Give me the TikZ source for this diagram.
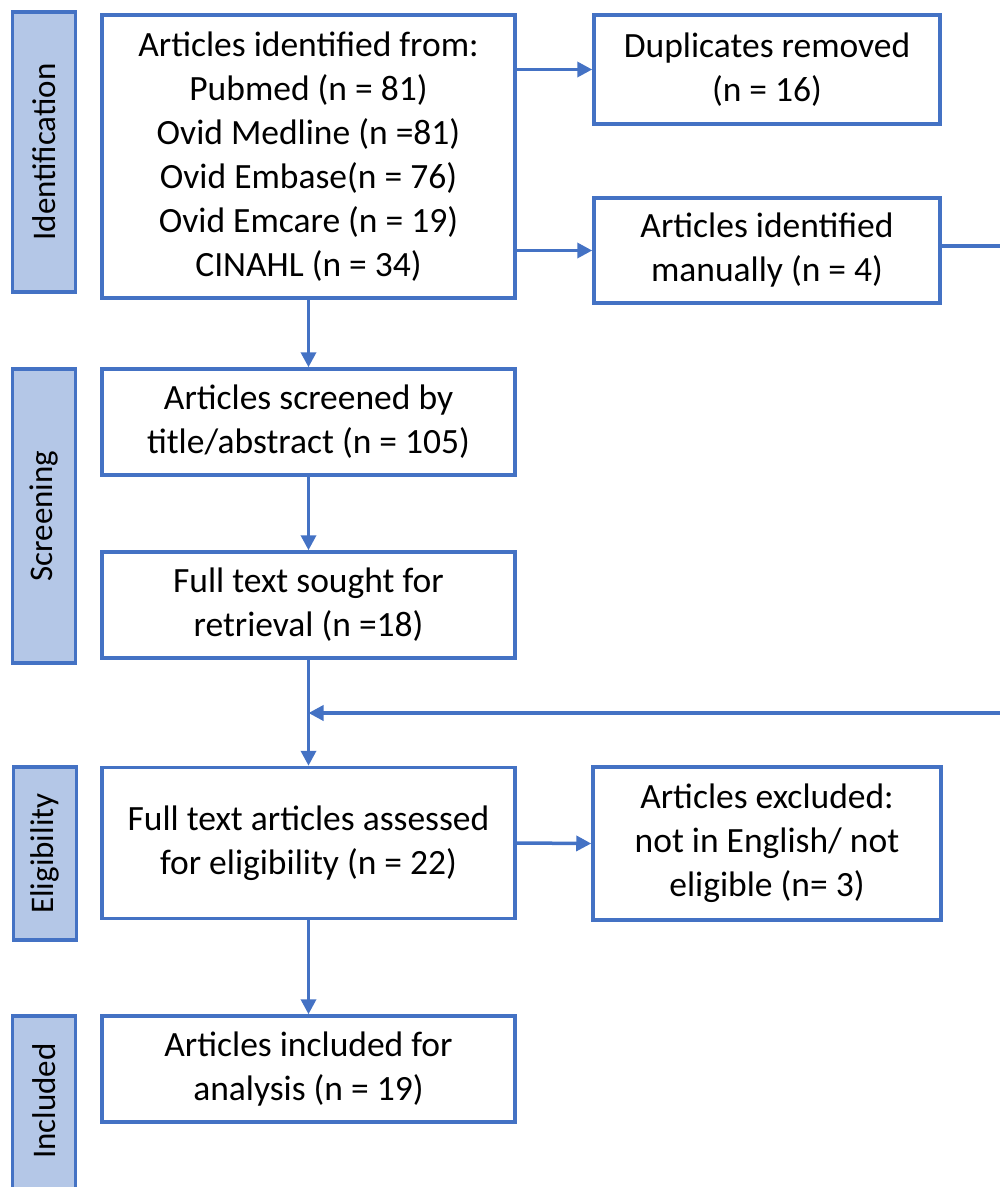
\documentclass[tikz,border=0pt]{standalone}
\usepackage{fontspec}
\setmainfont{Carlito}
\usetikzlibrary{arrows.meta}
\definecolor{bblue}{HTML}{4472C4}
\definecolor{sfill}{HTML}{B4C7E7}
\begin{document}
\begin{tikzpicture}[x=1pt,y=-1pt,
  box/.style={draw=bblue,line width=3.5pt,fill=white,align=center,inner sep=0pt,
    font=\fontsize{35.5}{44}\selectfont},
  side/.style={draw=bblue,line width=3.5pt,fill=sfill,align=center,inner sep=0pt},
  sidetxt/.style={rotate=90,font=\fontsize{33}{36}\selectfont},
  arr/.style={draw=bblue,line width=3.5pt,-{Triangle[length=15pt,width=15pt]}},
  ln/.style={draw=bblue,line width=3.5pt}]
\useasboundingbox (0,0) rectangle (1000,1187);
\clip (0,0) rectangle (1000,1187);
% side labels
\node[side,minimum width=63pt,minimum height=280pt] (sid) at (44,152) {};
\node[sidetxt] (sidt) at (sid.center) {Identification};
\node[side,minimum width=63pt,minimum height=294pt] (ssc) at (44,516) {};
\node[sidetxt] (ssct) at (ssc.center) {Screening};
\node[side,minimum width=63pt,minimum height=173pt] (sel) at (45,853.5) {};
\node[sidetxt] (selt) at (sel.center) {Eligibility};
\node[side,minimum width=63pt,minimum height=200pt] (sin) at (44,1116) {};
\node[sidetxt] (sint) at (44,1101) {Included};
% main boxes
\node[box,minimum width=413pt,minimum height=283pt] (ident) at (308.5,156.5)
  {Articles identified from:\\Pubmed (n = 81)\\Ovid Medline (n =81)\\Ovid Embase(n = 76)\\Ovid Emcare (n = 19)\\CINAHL (n = 34)};
\node[box,minimum width=346pt,minimum height=109pt] (dup) at (767,69.5)
  {Duplicates removed\\(n = 16)};
\node[box,minimum width=346pt,minimum height=105pt] (man) at (767,250.5)
  {Articles identified\\manually (n = 4)};
\node[box,minimum width=413pt,minimum height=106pt] (scr) at (308.5,422)
  {Articles screened by\\title/abstract (n = 105)};
\node[box,minimum width=413pt,minimum height=106pt] (sou) at (308.5,605)
  {Full text sought for\\retrieval (n =18)};
\node[box,minimum width=413pt,minimum height=151pt] (ass) at (308.5,843)
  {Full text articles assessed\\for eligibility (n = 22)};
\node[box,minimum width=348pt,minimum height=153pt] (exc) at (767,843.5)
  {Articles excluded:\\not in English/ not\\eligible (n= 3)};
\node[box,minimum width=413pt,minimum height=106pt] (inc) at (308.5,1069)
  {Articles included for\\analysis (n = 19)};
% connectors
\draw[arr] (ident.east |- dup.west) -- (dup.west);
\draw[arr] (ident.east |- man.west) -- (man.west);
\draw[arr] (ident.south) -- (scr.north);
\draw[arr] (scr.south) -- (sou.north);
\draw[arr] (sou.south) -- (ass.north);
\draw[arr] (ass.east) -- (exc.west);
\draw[arr] (ass.south) -- (inc.north);
\coordinate (r1) at (1020,246);
\coordinate (r2) at (1020,713);
\coordinate (j) at (308.5,713);
\draw[ln] (man.east |- r1) -- (r1) -- (r2) -- ++(-10,0);
\draw[arr] (r2) -- (j);
\end{tikzpicture}
\end{document}
